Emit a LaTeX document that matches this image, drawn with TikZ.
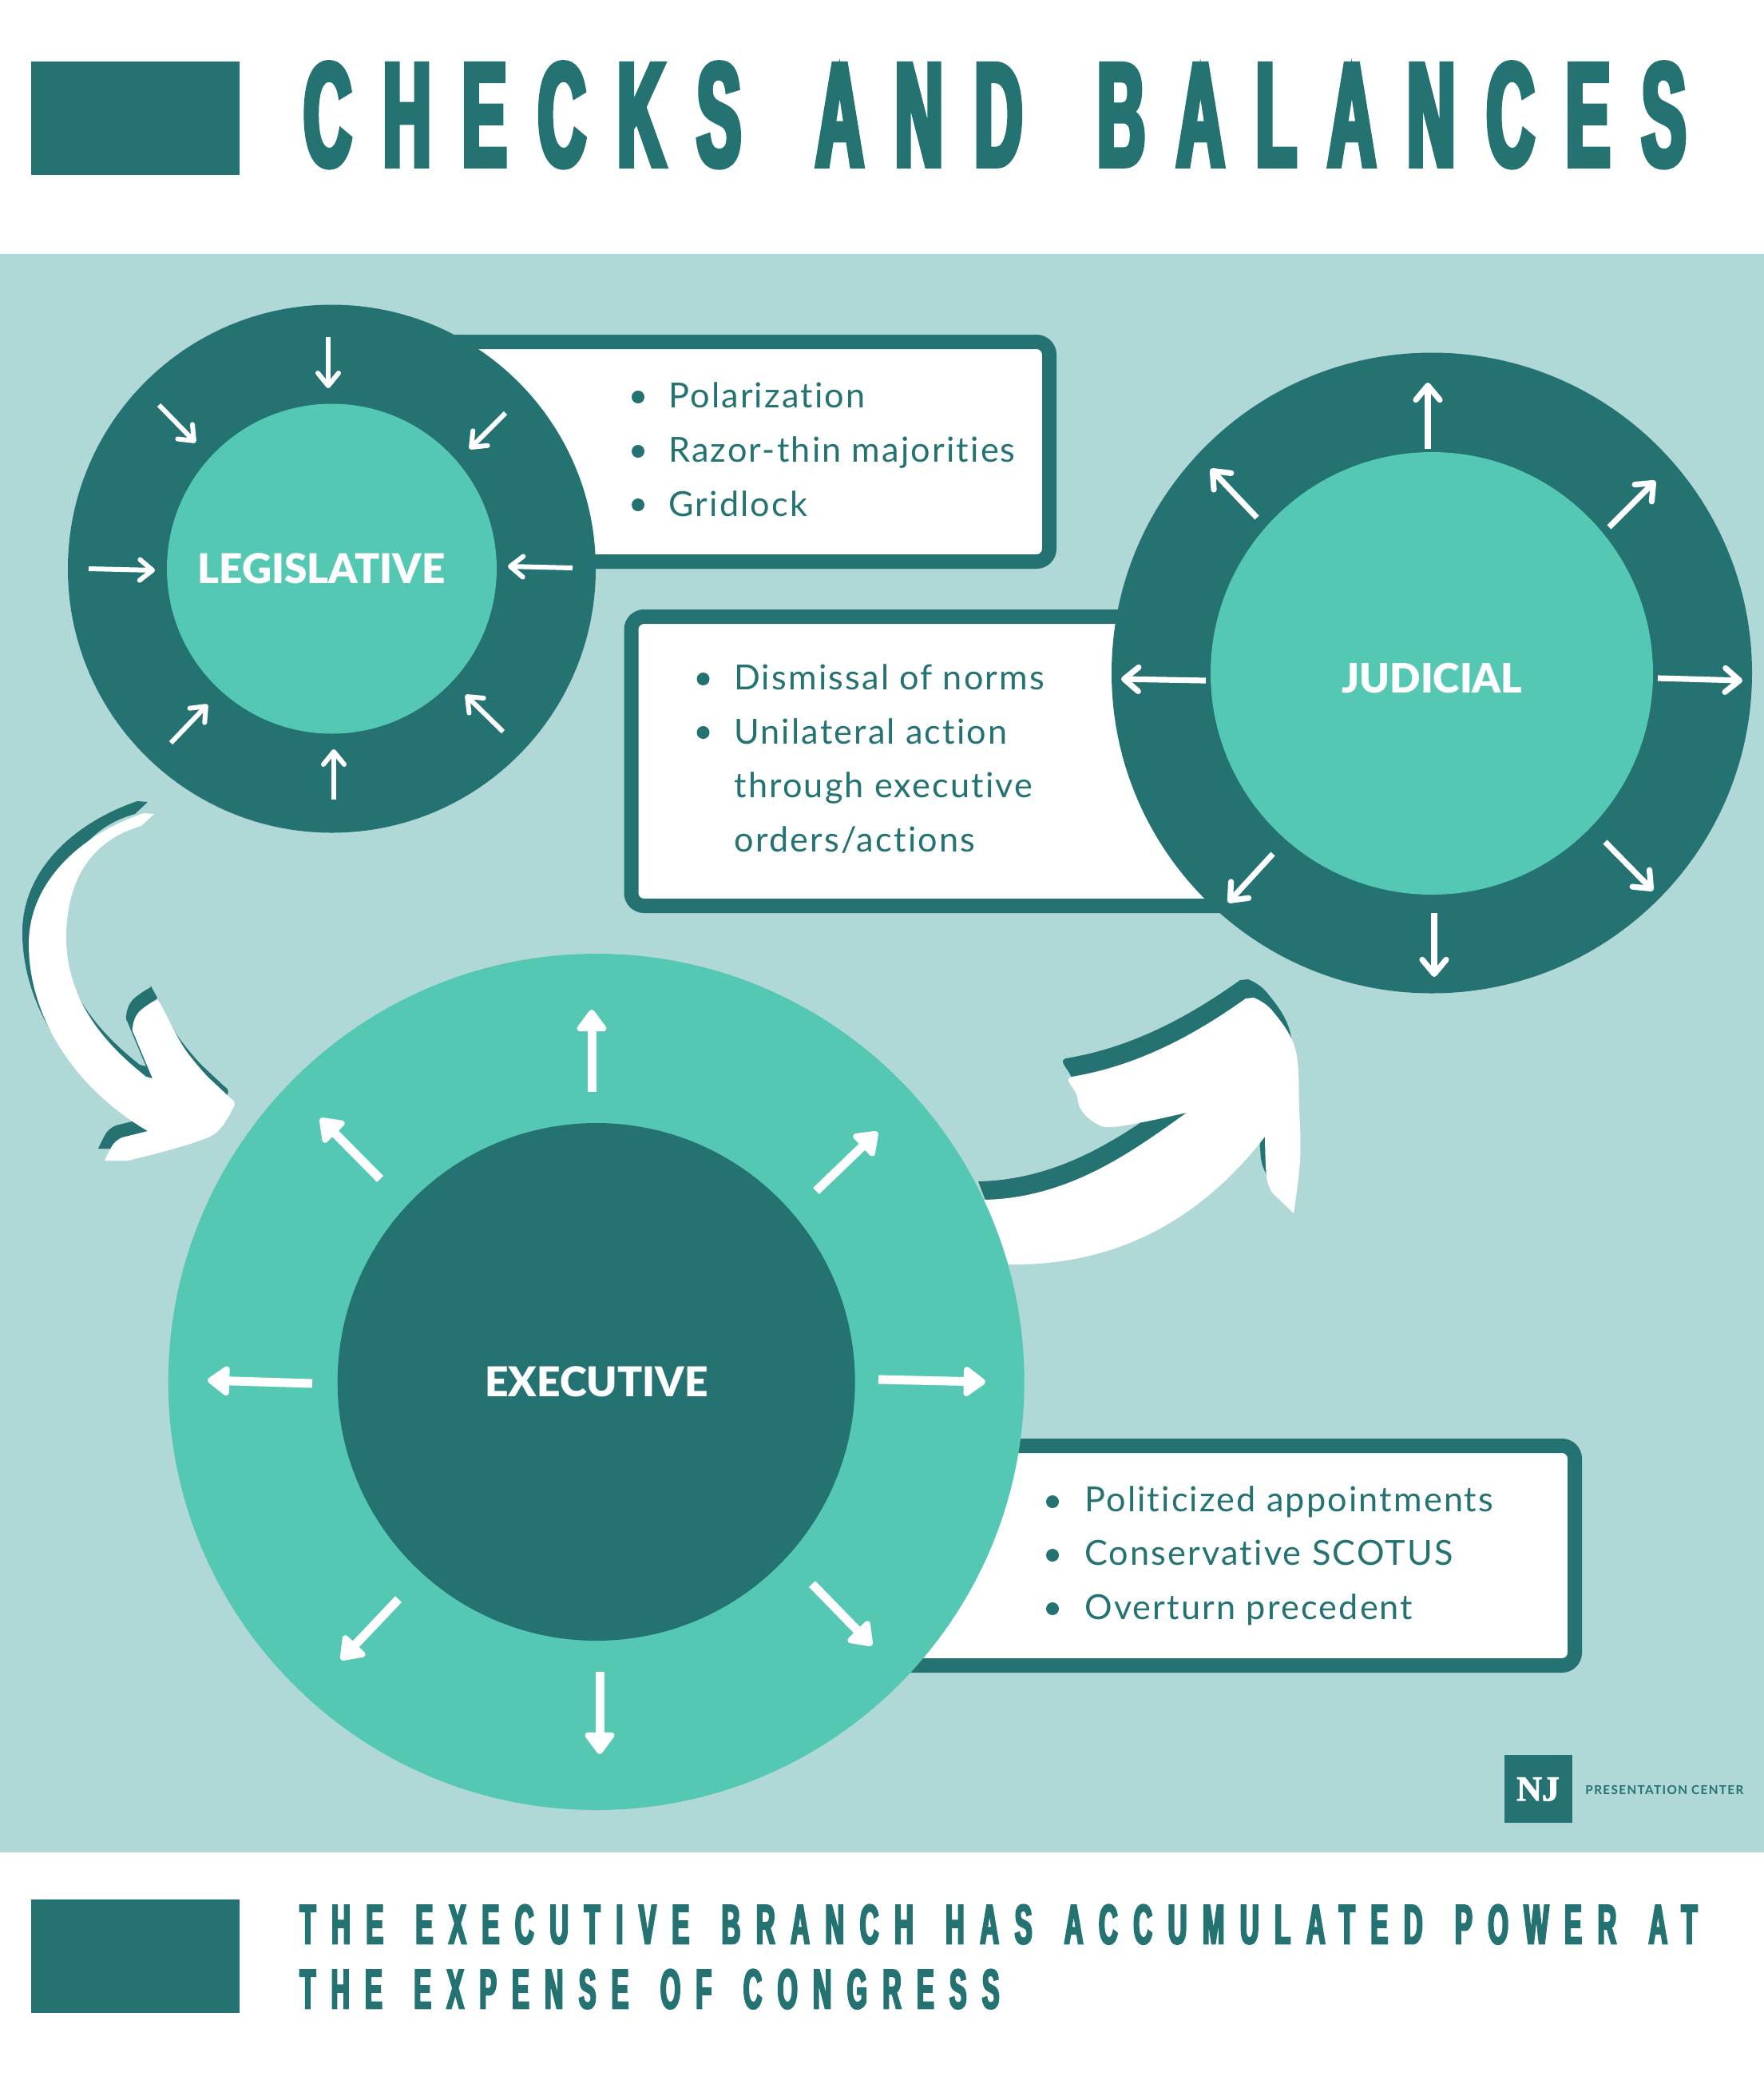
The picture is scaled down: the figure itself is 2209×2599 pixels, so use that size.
\documentclass[tikz,border=0pt]{standalone}
\usepackage{fontspec}
\usepackage{graphicx}
\usetikzlibrary{arrows.meta}
\setmainfont{Lato}
\newfontfamily\bodyf[LetterSpace=5,Ligatures=NoCommon]{Lato}
\newfontfamily\labelf{Lato Black}
\newfontfamily\smallf[LetterSpace=9]{Lato Bold}
\newfontfamily\headf[FakeStretch=0.44,FakeBold=3.6,LetterSpace=21,WordSpace=1.5]{Liberation Sans Bold}
\newfontfamily\subf[FakeStretch=0.42,FakeBold=3,LetterSpace=25,WordSpace=1.4]{Liberation Sans Bold}
\newfontfamily\logof[FakeBold=2]{Liberation Serif Bold}
\definecolor{dark}{HTML}{247272}
\definecolor{mid}{HTML}{55C8B4}
\definecolor{pale}{HTML}{B0D8D6}
\tikzset{
 x=0.5pt,y=-0.5pt,
 boxframe/.style={draw=dark,fill=white,line width=9pt,rounded corners=8pt},
 thinarr/.style={draw=white,line width=3pt,-{Straight Barb[length=8pt,width=13pt,round,line width=3pt]}},
 medarr/.style={draw=white,line width=3.6pt,-{Straight Barb[length=9pt,width=15pt,round,line width=3.6pt]}},
 fatarr/.style={draw=white,line width=5.5pt,-{Triangle[length=15pt,width=21pt,round]}},
 bodytext/.style={anchor=base west,inner sep=0pt,text=dark,font=\bodyf\fontsize{21.6pt}{24pt}\selectfont},
 bulletdot/.style={fill=dark,draw=none},
 fitlabel/.style={anchor=north west,inner sep=0pt,text=#1},
}
\newcommand{\leftarrowshape}{
 (193,1019) -- (180,1018) .. controls (100,1045) and (36,1105) .. (36,1182) .. controls (36,1270) and (90,1360) .. (185,1416)
 -- plot[smooth,tension=0.6] coordinates {(153,1424) (142,1432) (131,1453)}
 -- plot[smooth,tension=0.6] coordinates {(160,1453) (200,1443) (247,1429) (273,1416) (293,1385) (290,1376)}
 -- plot[smooth,tension=0.6] coordinates {(260,1348) (230,1311) (200,1255) (195,1252) (173,1268) (166,1287) (170,1300) (191,1350)}
 -- (183,1348) .. controls (135,1310) and (83,1255) .. (83,1174) .. controls (83,1095) and (120,1050) .. (177,1034)
 -- cycle}
\newcommand{\rightarrowshape}{
 (1232,1502) .. controls (1340,1500) and (1420,1440) .. (1486,1393)
 -- plot[smooth,tension=0.6] coordinates {(1450,1401) (1393,1411) (1370,1405) (1353,1388) (1348,1370) (1338,1353) (1342,1348)}
 .. controls (1420,1335) and (1490,1300) .. (1560,1250)
 -- plot[smooth,tension=0.6] coordinates {(1570,1249) (1593,1265) (1622,1313) (1627,1387) (1628,1453) (1620,1519)}
 -- plot[smooth,tension=0.6] coordinates {(1593,1493) (1586,1473) (1584,1423)}
 .. controls (1505,1525) and (1400,1585) .. (1263,1583)
 -- cycle}
\newcommand{\arw}[5]{\draw[#1] (#2,#3) -- (#4,#5);}
\begin{document}
\begin{tikzpicture}
\useasboundingbox (0,0) rectangle (2209,2599);
\fill[white] (0,0) rectangle (2209,2599);
\fill[pale] (0,318) rectangle (2209,2319);
% header and footer
\fill[dark] (39,77) rectangle (300,219);
\fill[dark] (39,2378) rectangle (300,2520);
\node[fitlabel=dark] (title) at (380,78) {\resizebox{865pt}{64.5pt}{\headf CHECKS AND BALANCES}};
\node[fitlabel=dark] (sub1) at (375,2384) {\resizebox{875pt}{24.5pt}{\subf THE EXECUTIVE BRANCH HAS ACCUMULATED POWER AT}};
\node[fitlabel=dark] (sub2) at (375,2465) {\resizebox{438pt}{24.5pt}{\subf THE EXPENSE OF CONGRESS}};
% boxes
\draw[boxframe] (540,428) rectangle (1314,703);
\draw[boxframe] (790.5,772) rectangle (1600,1134);
\draw[boxframe] (1000,1810) rectangle (1972,2085);
% white arrows
\fill[dark,shift={(-7,-23)}] \rightarrowshape;
\fill[white] \rightarrowshape;
\fill[dark,shift={(-8,-15)}] \leftarrowshape;
\fill[white] \leftarrowshape;
% circles
\fill[dark] (415.5,712) circle[radius=165.25pt];
\fill[mid] (415.5,712) circle[radius=103.25pt];
\fill[dark] (1793,842.5) circle[radius=200.5pt];
\fill[mid] (1793,843) circle[radius=138.5pt];
\fill[mid] (746.7,1730) circle[radius=268pt];
\fill[dark] (746.7,1730) circle[radius=162pt];
% labels
\node[fitlabel=white] (leg) at (247,692) {\resizebox{155pt}{!}{\labelf LEGISLATIVE}};
\node[fitlabel=white] (jud) at (1680,830) {\resizebox{113pt}{!}{\labelf JUDICIAL}};
\node[fitlabel=white] (exe) at (607,1710) {\resizebox{139.5pt}{!}{\labelf EXECUTIVE}};
% body text
\foreach \yy in {497,565,632} \fill[bulletdot] (799,\yy) circle[radius=4pt];
\node[bodytext] (t1) at (837,510) {Polarization};
\node[bodytext] (t2) at (837,578) {Razor-thin majorities};
\node[bodytext] (t3) at (837,646) {Gridlock};
\foreach \yy in {850,917} \fill[bulletdot] (880.5,\yy) circle[radius=4pt];
\node[bodytext] (t4) at (919,863) {Dismissal of norms};
\node[bodytext] (t5) at (919,931) {Unilateral action};
\node[bodytext] (t6) at (919,998) {through executive};
\node[bodytext] (t7) at (919,1066) {orders/actions};
\foreach \yy in {1880,1947,2014} \fill[bulletdot] (1318,\yy) circle[radius=4pt];
\node[bodytext] (t8) at (1358,1892) {Politicized appointments};
\node[bodytext] (t9) at (1358,1959) {Conservative SCOTUS};
\node[bodytext] (t10) at (1358,2027) {Overturn precedent};
% legislative arrows
\arw{thinarr}{411}{422}{411}{486}
\arw{thinarr}{199}{507}{245}{554}
\arw{thinarr}{633}{517}{588}{562}
\arw{thinarr}{111}{712}{194}{714}
\arw{thinarr}{717}{711}{636}{709}
\arw{thinarr}{214}{930}{260}{882}
\arw{thinarr}{630}{916}{583}{870}
\arw{thinarr}{418}{1001}{418}{938}
% judicial arrows
\arw{medarr}{1788}{562}{1788}{479}
\arw{medarr}{1574}{648}{1516}{587}
\arw{medarr}{2015}{660}{2073}{602}
\arw{medarr}{2076}{849}{2182}{852}
\arw{medarr}{1510}{852}{1404}{850}
\arw{medarr}{1594}{1069}{1538}{1130}
\arw{medarr}{2010}{1054}{2070}{1115}
\arw{medarr}{1796}{1143}{1796}{1223}
% executive arrows
\arw{fatarr}{741}{1367}{741}{1264}
\arw{fatarr}{476}{1476}{401}{1400}
\arw{fatarr}{1022}{1491}{1099}{1417}
\arw{fatarr}{1100}{1727}{1234}{1730}
\arw{fatarr}{391}{1732}{260}{1728}
\arw{fatarr}{499}{2002}{427}{2078}
\arw{fatarr}{1017}{1983}{1092}{2060}
\arw{fatarr}{751}{2093}{751}{2196}
% logo
\fill[dark] (1884,2197) rectangle (1969,2282);
\node[inner sep=0pt,text=white,font=\logof\fontsize{22pt}{24pt}\selectfont] (nj) at (1926,2240) {NJ};
\node[anchor=west,inner sep=0pt,text=dark] (pc) at (1985,2241) {\resizebox{99pt}{!}{\smallf PRESENTATION CENTER}};
\end{tikzpicture}
\end{document}
